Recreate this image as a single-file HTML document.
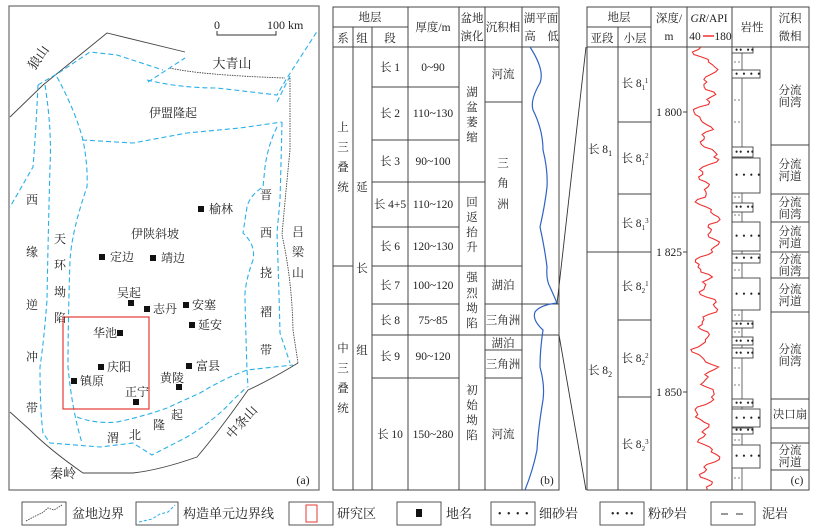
<!DOCTYPE html>
<html><head><meta charset="utf-8"><style>
html,body{margin:0;padding:0;background:#fff;}
svg{display:block;}
text{font-family:"Liberation Serif","Noto Serif CJK SC",serif;fill:#222;}
</style></head><body>
<svg width="828" height="531" viewBox="0 0 828 531" xmlns="http://www.w3.org/2000/svg">
<rect width="828" height="531" fill="#fff"/>
<!-- Panel a -->
<rect x="9" y="6" width="310" height="484" fill="none" stroke="#777" stroke-width="1.3"/>
<g fill="none" stroke="#444" stroke-width="0.9">
<path d="M10,117 L43,85 L107,33 L185,52"/>
<path d="M170,68 Q200,75 285,78" stroke-dasharray="1.5,1"/>
<path d="M290,78 L290,150 Q285,200 282,235 Q292,280 293,330 L298,363" stroke-dasharray="1.5,1"/>
<path d="M298,363 Q270,380 248,390 Q220,430 197,457 Q160,470 133,473 L83,473 Q50,450 30,430 L10,412"/>
</g>
<g fill="none" stroke="#2ab0e8" stroke-width="1.1" stroke-dasharray="5,3">
<path d="M38,85 L60,72 L90,52 L117,55 L163,70"/>
<path d="M148,82 L185,58"/>
<path d="M147,80 Q180,88 217,88 L277,95 L287,78 L318,30"/>
<path d="M277,102 L290,76"/>
<path d="M82,140 L133,143 L187,133 L240,128 L282,122"/>
<path d="M38,85 Q36,130 33,167 L10,207"/>
<path d="M45,85 Q52,130 50,167 Q48,240 47,300 Q44,340 40,367 Q40,410 43,433 L50,443 L100,447 L133,443 L152,455 L187,437 Q215,420 233,400 L247,387"/>
<path d="M57,77 Q75,110 83,140 Q88,165 87,187 Q72,230 70,260 Q68,320 68,367 Q72,410 82,443"/>
<path d="M77,417 Q95,424 117,422 Q145,416 167,408 L200,393 Q225,378 247,370 L293,365"/>
<path d="M277,127 Q268,145 265,167 L263,187 Q250,195 247,207 L243,233 Q256,245 253,260 Q244,285 245,300 Q246,340 247,370 L248,387"/>
<path d="M282,122 Q281,165 280,200 L277,233 Q279,290 280,333 L290,363"/>
</g>
<rect x="63" y="317" width="86" height="92" fill="none" stroke="#e53935" stroke-width="1.2"/>
<path d="M217,31 L217,35 L276,35 L276,31" fill="none" stroke="#333" stroke-width="1"/>
<text x="214" y="29" font-size="12">0</text>
<text x="267" y="29" font-size="12">100 km</text>
<g font-size="13">
<text x="42" y="60" transform="rotate(-55 42 60)" text-anchor="middle">狼山</text>
<text x="232" y="68" text-anchor="middle">大青山</text>
<text x="245" y="425" transform="rotate(-48 245 425)" text-anchor="middle">中条山</text>
<text x="63" y="478" text-anchor="middle">秦岭</text>
</g>
<g font-size="12" text-anchor="middle">
<text x="173" y="117">伊盟隆起</text>
<text x="155" y="238">伊陕斜坡</text>
<text x="32" y="204">西</text><text x="32" y="256">缘</text><text x="32" y="309">逆</text><text x="32" y="361">冲</text><text x="32" y="412">带</text>
<text x="60" y="243">天</text><text x="60" y="269">环</text><text x="60" y="296">坳</text><text x="60" y="322">陷</text>
<text x="266" y="199">晋</text><text x="266" y="237">西</text><text x="266" y="277">挠</text><text x="266" y="316">褶</text><text x="266" y="354">带</text>
<text x="298" y="236">吕</text><text x="298" y="256">梁</text><text x="298" y="277">山</text>
<text x="113" y="442">渭</text><text x="135" y="439">北</text><text x="159" y="429">隆</text><text x="177" y="419">起</text>
<text x="129" y="297">吴起</text>
<text x="105" y="337">华池</text>
<text x="137" y="396">正宁</text>
<text x="172" y="382">黄陵</text>
<text x="303" y="484">(a)</text>
</g>
<g font-size="12">
<text x="209" y="213">榆林</text>
<text x="110" y="261">定边</text>
<text x="161" y="262">靖边</text>
<text x="153" y="313">志丹</text>
<text x="192" y="309">安塞</text>
<text x="198" y="329">延安</text>
<text x="107" y="371">庆阳</text>
<text x="80" y="385">镇原</text>
<text x="196" y="370">富县</text>
</g>
<g fill="#111">
<rect x="198" y="206" width="6" height="6"/><rect x="99" y="254" width="6" height="6"/><rect x="150" y="255" width="6" height="6"/>
<rect x="128" y="300" width="6" height="6"/><rect x="144" y="306" width="6" height="6"/><rect x="183" y="302" width="6" height="6"/>
<rect x="189" y="322" width="6" height="6"/><rect x="117" y="330" width="6" height="6"/><rect x="98" y="364" width="6" height="6"/>
<rect x="71" y="378" width="6" height="6"/><rect x="133" y="399" width="6" height="6"/><rect x="176" y="384" width="6" height="6"/>
<rect x="186" y="363" width="6" height="6"/>
</g>

<!-- Panel b -->
<g stroke="#444" stroke-width="1" fill="none">
<rect x="333" y="7" width="226" height="483"/>
<line x1="333" y1="27" x2="408" y2="27"/>
<line x1="333" y1="47" x2="559" y2="47"/>
<line x1="353" y1="27" x2="353" y2="490"/>
<line x1="372" y1="27" x2="372" y2="490"/>
<line x1="408" y1="7" x2="408" y2="490"/>
<line x1="459" y1="7" x2="459" y2="490"/>
<line x1="485" y1="7" x2="485" y2="490"/>
<line x1="522" y1="7" x2="522" y2="490"/>
<path d="M372,87H459 M372,140H459 M372,182H485 M372,227H459 M372,266H485 M372,304H459 M372,335H485 M372,378H459 M333,266H353"/>
<path d="M485,102H522 M485,266H522 M485,304H559 M485,335H559 M485,350H522 M485,378H522"/>
</g>
<path d="M530,47 Q545,70 540,83 Q530,100 533,110 Q543,130 543,150 Q548,170 547,187 Q545,205 540,227 Q545,250 547,267 Q546,280 550,287 Q554,296 557,303 Q540,305 535,312 Q532,320 543,330 Q540,350 540,367 Q545,385 543,400 Q538,430 537,450 Q533,470 525,490" fill="none" stroke="#2f63c4" stroke-width="1.2"/>
<line x1="557" y1="304" x2="586" y2="47" stroke="#333" stroke-width="0.9"/>
<line x1="559" y1="335" x2="586" y2="490" stroke="#333" stroke-width="0.9"/>
<g font-size="11.5" text-anchor="middle">
<text x="370" y="21">地层</text>
<text x="343" y="42">系</text><text x="362" y="42">组</text><text x="390" y="42">段</text>
<text x="433" y="31">厚度/m</text>
<text x="472" y="22">盆地</text><text x="472" y="40">演化</text>
<text x="503" y="31">沉积相</text>
<text x="541" y="22">湖平面</text>
<text x="530" y="40">高</text><text x="553" y="40">低</text>
<text x="390" y="71">长 1</text><text x="433" y="71">0~90</text>
<text x="390" y="117">长 2</text><text x="433" y="117">110~130</text>
<text x="390" y="165">长 3</text><text x="433" y="165">90~100</text>
<text x="390" y="208">长 4+5</text><text x="433" y="208">110~120</text>
<text x="390" y="250">长 6</text><text x="433" y="250">120~130</text>
<text x="390" y="289">长 7</text><text x="433" y="289">100~120</text>
<text x="390" y="324">长 8</text><text x="433" y="324">75~85</text>
<text x="390" y="360">长 9</text><text x="433" y="360">90~120</text>
<text x="390" y="438">长 10</text><text x="433" y="438">150~280</text>
<text x="343" y="131">上</text><text x="343" y="151">三</text><text x="343" y="171">叠</text><text x="343" y="191">统</text>
<text x="343" y="352">中</text><text x="343" y="372">三</text><text x="343" y="392">叠</text><text x="343" y="412">统</text>
<text x="362" y="191">延</text><text x="362" y="272">长</text><text x="362" y="354">组</text>
<text x="472" y="96">湖</text><text x="472" y="111">盆</text><text x="472" y="126">萎</text><text x="472" y="141">缩</text>
<text x="472" y="206">回</text><text x="472" y="221">返</text><text x="472" y="236">抬</text><text x="472" y="251">升</text>
<text x="472" y="281">强</text><text x="472" y="297">烈</text><text x="472" y="312">坳</text><text x="472" y="327">陷</text>
<text x="472" y="394">初</text><text x="472" y="409">始</text><text x="472" y="424">坳</text><text x="472" y="439">陷</text>
<text x="503" y="78">河流</text>
<text x="503" y="167">三</text><text x="503" y="187">角</text><text x="503" y="208">洲</text>
<text x="503" y="289">湖泊</text><text x="503" y="324">三角洲</text><text x="503" y="347">湖泊</text><text x="503" y="368">三角洲</text>
<text x="503" y="438">河流</text>
<text x="547" y="484">(b)</text>
</g>

<!-- Panel c -->
<g stroke="#444" stroke-width="1" fill="none">
<rect x="587" y="7" width="222" height="483"/>
<line x1="587" y1="27" x2="651" y2="27"/>
<line x1="587" y1="47" x2="809" y2="47"/>
<line x1="618" y1="27" x2="618" y2="490"/>
<line x1="651" y1="7" x2="651" y2="490"/>
<line x1="687" y1="7" x2="687" y2="490"/>
<line x1="732" y1="7" x2="732" y2="490"/>
<line x1="771" y1="7" x2="771" y2="490"/>
<path d="M587,252H651 M618,122H651 M618,194H651 M618,320H651 M618,397H651"/>
<path d="M771,145H809 M771,194H809 M771,222H809 M771,252H809 M771,278H809 M771,312H809 M771,399H809 M771,428H809 M771,443H809 M771,470H809"/>
<path d="M683,112H687 M683,252H687 M683,392H687"/>
<rect x="732" y="47" width="10" height="443" stroke-width="0.8"/>
</g>
<g stroke="#444" stroke-width="0.9" fill="#fff">
<rect x="732" y="47" width="21" height="6"/>
<rect x="732" y="70" width="28" height="8"/>
<rect x="732" y="147" width="21" height="10"/>
<rect x="732" y="158" width="28" height="35"/>
<rect x="732" y="203" width="21" height="9"/>
<rect x="732" y="222" width="28" height="29"/>
<rect x="732" y="254" width="28" height="9"/>
<rect x="732" y="278" width="28" height="32"/>
<rect x="732" y="321" width="21" height="7"/>
<rect x="732" y="337" width="21" height="8"/>
<rect x="732" y="348" width="21" height="10"/>
<rect x="732" y="399" width="21" height="8"/>
<rect x="732" y="409" width="28" height="18"/>
<rect x="732" y="428" width="21" height="6"/>
<rect x="732" y="445" width="28" height="23"/>
</g>
<g font-size="9" font-family="Liberation Sans" fill="#222" style="letter-spacing:1px">
<text x="735" y="53">•• ••</text>
<text x="735" y="77">• • • •</text>
<text x="735" y="155">•• ••</text>
<text x="735" y="178">• • • •</text>
<text x="735" y="210">•• ••</text>
<text x="735" y="239">• • • •</text>
<text x="735" y="261">• • • •</text>
<text x="735" y="297">• • • •</text>
<text x="735" y="327">•• ••</text>
<text x="735" y="344">•• ••</text>
<text x="735" y="356">•• ••</text>
<text x="735" y="406">•• ••</text>
<text x="735" y="421">• • • •</text>
<text x="735" y="433">•• ••</text>
<text x="735" y="459">• • • •</text>
</g>
<g stroke="#555" stroke-width="0.8">
<path d="M734,62h2 M738,62h2 M734,100h2 M738,100h2 M734,122h2 M738,122h2 M734,197h2 M738,197h2 M734,215h2 M738,215h2 M734,270h2 M738,270h2 M734,315h2 M738,315h2 M734,332h2 M738,332h2 M734,368h2 M738,368h2 M734,385h2 M738,385h2 M734,440h2 M738,440h2 M734,478h2 M738,478h2"/>
</g>
<polyline id="gr" fill="none" stroke="#f03030" stroke-width="1.1" points=""/>
<g font-size="11.5" text-anchor="middle">
<text x="619" y="21">地层</text>
<text x="602" y="42">亚段</text><text x="635" y="42">小层</text>
<text x="669" y="22">深度/</text><text x="669" y="40">m</text>
<text x="709" y="22"><tspan font-style="italic">GR</tspan>/API</text>
<text x="695" y="40">40</text><text x="723" y="40">180</text>
<text x="752" y="31">岩性</text>
<text x="790" y="22">沉积</text><text x="790" y="40">微相</text>
<text x="600" y="153">长 8<tspan font-size="8" dy="3">1</tspan></text>
<text x="600" y="374">长 8<tspan font-size="8" dy="3">2</tspan></text>
<text x="635" y="87">长 8<tspan font-size="7" dy="3">1</tspan><tspan font-size="7" dy="-7">1</tspan></text>
<text x="635" y="162">长 8<tspan font-size="7" dy="3">1</tspan><tspan font-size="7" dy="-7">2</tspan></text>
<text x="635" y="227">长 8<tspan font-size="7" dy="3">1</tspan><tspan font-size="7" dy="-7">3</tspan></text>
<text x="635" y="290">长 8<tspan font-size="7" dy="3">2</tspan><tspan font-size="7" dy="-7">1</tspan></text>
<text x="635" y="362">长 8<tspan font-size="7" dy="3">2</tspan><tspan font-size="7" dy="-7">2</tspan></text>
<text x="635" y="448">长 8<tspan font-size="7" dy="3">2</tspan><tspan font-size="7" dy="-7">3</tspan></text>
<text x="790" y="94">分流</text><text x="790" y="106">间湾</text>
<text x="790" y="168">分流</text><text x="790" y="180">河道</text>
<text x="790" y="206">分流</text><text x="790" y="218">间湾</text>
<text x="790" y="235">分流</text><text x="790" y="247">河道</text>
<text x="790" y="263">分流</text><text x="790" y="275">间湾</text>
<text x="790" y="293">分流</text><text x="790" y="305">河道</text>
<text x="790" y="353">分流</text><text x="790" y="365">间湾</text>
<text x="790" y="418">决口扇</text>
<text x="790" y="454">分流</text><text x="790" y="466">河道</text>
<text x="797" y="484">(c)</text>
</g>
<line x1="703" y1="36" x2="714" y2="36" stroke="#f03030" stroke-width="1.5"/>
<g font-size="11.5" text-anchor="end">
<text x="682" y="116">1 800</text><text x="682" y="256">1 825</text><text x="682" y="396">1 850</text>
</g>

<!-- Legend -->
<g stroke="#444" stroke-width="0.9" fill="#fff">
<rect x="22" y="502" width="44" height="23"/><rect x="136" y="502" width="42" height="23"/>
<rect x="289" y="502" width="44" height="23"/><rect x="397" y="502" width="44" height="23"/>
<rect x="491" y="502" width="44" height="23"/><rect x="600" y="502" width="44" height="23"/>
<rect x="711" y="502" width="44" height="23"/>
</g>
<path d="M26,521 Q35,516 42,513 L48,508 L54,510 L62,505" fill="none" stroke="#333" stroke-width="0.8" stroke-dasharray="1.5,1"/>
<path d="M139,522 L152,519 L160,514 L168,512 L175,505" fill="none" stroke="#2ab0e8" stroke-width="1" stroke-dasharray="3,2"/>
<rect x="306" y="505" width="11" height="17" fill="none" stroke="#e53935" stroke-width="1"/>
<rect x="416" y="509" width="6" height="8" fill="#111"/>
<g font-size="10" font-family="Liberation Sans" fill="#222" style="letter-spacing:1.5px">
<text x="498" y="517">• • • •</text><text x="611" y="517">••  ••</text>
</g>
<path d="M721,514h7 M736,514h7" stroke="#333" stroke-width="1"/>
<g font-size="13">
<text x="72" y="518">盆地边界</text>
<text x="183" y="518">构造单元边界线</text>
<text x="337" y="518">研究区</text>
<text x="446" y="518">地名</text>
<text x="539" y="518">细砂岩</text>
<text x="648" y="518">粉砂岩</text>
<text x="762" y="518">泥岩</text>
</g>
<script>
(function(){var p=[];var s=7;for(var y=47;y<=490;y+=2.5){s=(s*9301+49297)%233280;var r=s/233280-0.5;
var x=706+7*Math.sin(y*0.21)+5*Math.sin(y*0.083+1.3)+3*Math.sin(y*0.55+0.4)+r*4;
if(y>190&&y<260)x+=3;p.push(x.toFixed(1)+","+y.toFixed(1));}
document.getElementById("gr").setAttribute("points",p.join(" "));})();
</script>
</svg>
</body></html>
